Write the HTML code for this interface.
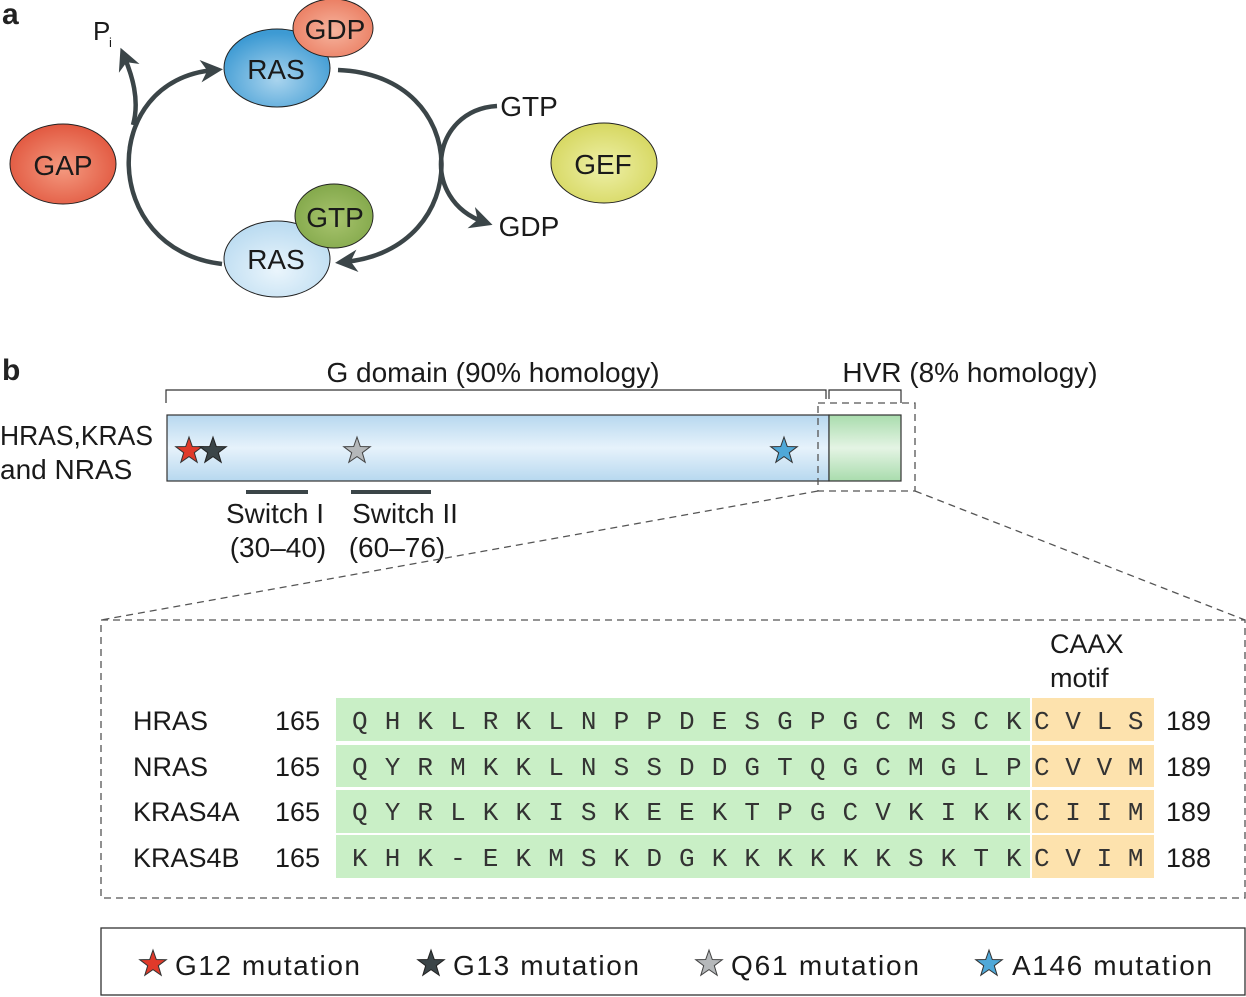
<!DOCTYPE html>
<html><head><meta charset="utf-8"><style>
html,body{margin:0;padding:0;background:#fff;}
svg{display:block;font-family:"Liberation Sans",sans-serif;}
</style></head><body>
<svg width="1246" height="997" viewBox="0 0 1246 997" xmlns="http://www.w3.org/2000/svg">
<defs>
<radialGradient id="gBlue" cx="50%" cy="65%" r="60%"><stop offset="0" stop-color="#a9d4ee"/><stop offset="1" stop-color="#3d9ad3"/></radialGradient>
<radialGradient id="gLBlue" cx="50%" cy="65%" r="60%"><stop offset="0" stop-color="#eaf5fc"/><stop offset="1" stop-color="#bcdcf1"/></radialGradient>
<radialGradient id="gRed" cx="50%" cy="55%" r="60%"><stop offset="0" stop-color="#f49a80"/><stop offset="1" stop-color="#e0523a"/></radialGradient>
<radialGradient id="gGDP" cx="50%" cy="55%" r="60%"><stop offset="0" stop-color="#f6b49e"/><stop offset="1" stop-color="#ea7a5e"/></radialGradient>
<radialGradient id="gGTP" cx="50%" cy="55%" r="60%"><stop offset="0" stop-color="#a8c46e"/><stop offset="1" stop-color="#80a648"/></radialGradient>
<radialGradient id="gGEF" cx="50%" cy="55%" r="60%"><stop offset="0" stop-color="#eef0a8"/><stop offset="1" stop-color="#d4d55a"/></radialGradient>
<linearGradient id="barB" x1="0" y1="0" x2="0" y2="1"><stop offset="0" stop-color="#b7d8ef"/><stop offset="0.5" stop-color="#e6f2fb"/><stop offset="1" stop-color="#b7d8ef"/></linearGradient>
<linearGradient id="barG" x1="0" y1="0" x2="0" y2="1"><stop offset="0" stop-color="#a9dcad"/><stop offset="0.5" stop-color="#e4f4e4"/><stop offset="1" stop-color="#a9dcad"/></linearGradient>
<marker id="ah" viewBox="0 0 10 10" refX="6" refY="5" markerWidth="5" markerHeight="5" orient="auto"><path d="M0,0 L10,5 L0,10 L3,5 Z" fill="#3b4548"/></marker>
<path id="star" d="M0,-14 L3.3,-4.5 L13.3,-4.3 L5.3,1.7 L8.2,11.3 L0,5.6 L-8.2,11.3 L-5.3,1.7 L-13.3,-4.3 L-3.3,-4.5 Z"/>
</defs>

<!-- panel a -->
<text x="2" y="24" font-size="30" font-weight="bold" fill="#222">a</text>
<g fill="none" stroke="#3b4548" stroke-width="4.5">
<path d="M222,264 C100,250 98,80 214,70" marker-end="url(#ah)"/>
<path d="M338,70 C475,75 475,250 344,262" marker-end="url(#ah)"/>
<path d="M497,106 C430,110 420,200 484,222" marker-end="url(#ah)"/>
<path d="M133,125 C140,100 132,75 124,56" marker-end="url(#ah)"/>
</g>
<ellipse cx="277" cy="68" rx="53" ry="39" fill="url(#gBlue)" stroke="#222" stroke-width="1"/>
<ellipse cx="333" cy="28" rx="40" ry="29" fill="url(#gGDP)" stroke="#222" stroke-width="1"/>
<ellipse cx="277" cy="259" rx="53" ry="38" fill="url(#gLBlue)" stroke="#222" stroke-width="1"/>
<ellipse cx="334" cy="216" rx="39" ry="32" fill="url(#gGTP)" stroke="#222" stroke-width="1"/>
<ellipse cx="63" cy="164" rx="53" ry="40" fill="url(#gRed)" stroke="#222" stroke-width="1"/>
<ellipse cx="604" cy="163" rx="53" ry="40" fill="url(#gGEF)" stroke="#222" stroke-width="1"/>
<g font-size="28" fill="#1a1a1a" text-anchor="middle">
<text x="276" y="79">RAS</text>
<text x="335" y="39">GDP</text>
<text x="276" y="269">RAS</text>
<text x="335" y="227">GTP</text>
<text x="63" y="175">GAP</text>
<text x="603" y="174">GEF</text>
<text x="529" y="116">GTP</text>
<text x="529" y="236">GDP</text>
</g>
<text x="93" y="40" font-size="26" fill="#1a1a1a">P</text>
<text x="109" y="47" font-size="13" fill="#1a1a1a">i</text>

<!-- panel b -->
<text x="2" y="380" font-size="30" font-weight="bold" fill="#222">b</text>
<g font-size="28" fill="#1a1a1a">
<text x="493" y="382" text-anchor="middle">G domain (90% homology)</text>
<text x="970" y="382" text-anchor="middle">HVR (8% homology)</text>
<text x="0" y="445" textLength="153" lengthAdjust="spacingAndGlyphs">HRAS,KRAS</text>
<text x="0" y="479">and NRAS</text>
<text x="275" y="523" text-anchor="middle">Switch I</text>
<text x="278" y="557" text-anchor="middle">(30–40)</text>
<text x="405" y="523" text-anchor="middle">Switch II</text>
<text x="397" y="557" text-anchor="middle">(60–76)</text>
</g>
<g fill="none" stroke="#333" stroke-width="1.2">
<path d="M166,403 V390 H826 V399"/>
<path d="M829,399 V390 H901 V403"/>
</g>
<rect x="167" y="415" width="662" height="66" fill="url(#barB)" stroke="#333" stroke-width="1.2"/>
<rect x="829" y="415" width="72" height="66" fill="url(#barG)" stroke="#333" stroke-width="1.2"/>
<line x1="246" y1="492" x2="308" y2="492" stroke="#3b4548" stroke-width="4"/>
<line x1="351" y1="492" x2="431" y2="492" stroke="#3b4548" stroke-width="4"/>
<use href="#star" x="189" y="451" fill="#e03a2a" stroke="#333" stroke-width="1"/>
<use href="#star" x="213" y="451" fill="#3b4548" stroke="#222" stroke-width="1"/>
<use href="#star" x="357" y="451" fill="#b5b8ba" stroke="#444" stroke-width="1"/>
<use href="#star" x="784" y="451" fill="#4fa8d8" stroke="#333" stroke-width="1"/>
<g fill="none" stroke="#555" stroke-width="1.3" stroke-dasharray="7,5">
<rect x="818" y="403" width="97" height="88"/>
<line x1="818" y1="491" x2="101" y2="620"/>
<line x1="915" y1="491" x2="1245" y2="620"/>
<rect x="101" y="620" width="1144" height="278"/>
</g>
<text x="1050" y="653" font-size="27" fill="#1a1a1a">CAAX</text>
<text x="1050" y="687" font-size="27" fill="#1a1a1a">motif</text>
<g fill="#c9efc6">
<rect x="336" y="698" width="694" height="43"/>
<rect x="336" y="745" width="694" height="42"/>
<rect x="336" y="790" width="694" height="43"/>
<rect x="336" y="835" width="694" height="43"/>
</g>
<g fill="#fde2ad">
<rect x="1032" y="698" width="122" height="43"/>
<rect x="1032" y="745" width="122" height="42"/>
<rect x="1032" y="790" width="122" height="43"/>
<rect x="1032" y="835" width="122" height="43"/>
</g>
<g font-size="27" fill="#1a1a1a">
<text x="133" y="730">HRAS</text><text x="275" y="730">165</text><text x="1166" y="730">189</text>
<text x="133" y="776">NRAS</text><text x="275" y="776">165</text><text x="1166" y="776">189</text>
<text x="133" y="821">KRAS4A</text><text x="275" y="821">165</text><text x="1166" y="821">189</text>
<text x="133" y="867">KRAS4B</text><text x="275" y="867">165</text><text x="1166" y="867">188</text>
</g>
<g font-family="Liberation Mono,monospace" font-size="26" fill="#333">
<g letter-spacing="17.1">
<text x="352" y="729">QHKLRKLNPPDESGPGCMSCK</text>
<text x="352" y="775">QYRMKKLNSSDDGTQGCMGLP</text>
<text x="352" y="820">QYRLKKISKEEKTPGCVKIKK</text>
<text x="352" y="866">KHK-EKMSKDGKKKKKKSKTK</text>
</g>
<g letter-spacing="15.7">
<text x="1034" y="729">CVLS</text>
<text x="1034" y="775">CVVM</text>
<text x="1034" y="820">CIIM</text>
<text x="1034" y="866">CVIM</text>
</g>
</g>

<!-- legend -->
<rect x="101" y="928" width="1144" height="67" fill="none" stroke="#333" stroke-width="1.3"/>
<use href="#star" x="153" y="964" fill="#e03a2a" stroke="#333" stroke-width="1"/>
<use href="#star" x="431" y="964" fill="#3b4548" stroke="#222" stroke-width="1"/>
<use href="#star" x="709" y="964" fill="#b5b8ba" stroke="#444" stroke-width="1"/>
<use href="#star" x="989" y="964" fill="#4fa8d8" stroke="#333" stroke-width="1"/>
<g font-size="28" fill="#1a1a1a">
<text x="175" y="975" textLength="185">G12 mutation</text>
<text x="453" y="975" textLength="186">G13 mutation</text>
<text x="731" y="975" textLength="188">Q61 mutation</text>
<text x="1012" y="975" textLength="200">A146 mutation</text>
</g>
</svg>
</body></html>
